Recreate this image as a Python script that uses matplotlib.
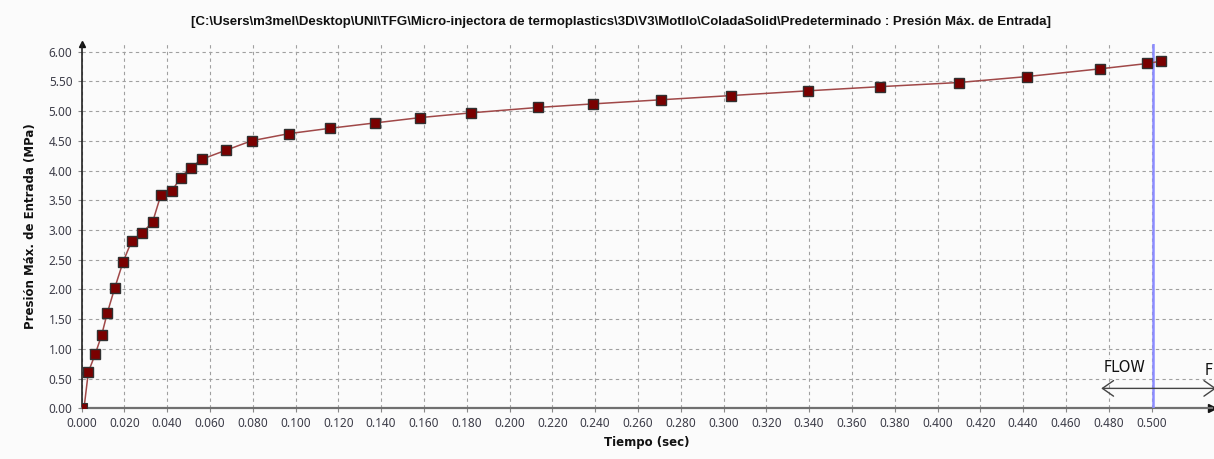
import matplotlib
matplotlib.use("Agg")
import matplotlib.pyplot as plt
import numpy as np

# data
tiempo = [0.0013, 0.0032, 0.0064, 0.0094, 0.0121, 0.0155, 0.0194, 0.0234, 0.0283, 0.0332,
          0.0371, 0.0421, 0.0463, 0.0511, 0.0563, 0.0674, 0.0795, 0.0969, 0.1161, 0.1371,
          0.1583, 0.1821, 0.2131, 0.2388, 0.2710, 0.3033, 0.3393, 0.3731, 0.4100, 0.4418,
          0.4759, 0.4981, 0.5045]
presion = [0.04, 0.61, 0.91, 1.23, 1.61, 2.02, 2.46, 2.81, 2.95, 3.13,
           3.59, 3.65, 3.88, 4.05, 4.19, 4.34, 4.50, 4.62, 4.71, 4.80,
           4.89, 4.97, 5.06, 5.12, 5.19, 5.26, 5.34, 5.41, 5.48, 5.58,
           5.71, 5.80, 5.84]
xticks = np.round(np.arange(0, 0.501, 0.02), 3)
yticks = np.round(np.arange(0, 6.01, 0.5), 2)
cursor_t = 0.5005
flow_start = 0.4765

title = r"[C:\Users\m3mel\Desktop\UNI\TFG\Micro-injectora de termoplastics\3D\V3\Motllo\ColadaSolid\Predeterminado : Presión Máx. de Entrada]"

W, H = 1214, 459
fig = plt.figure(figsize=(W/100, H/100), dpi=100)
bg = "#fbfbfb"
fig.patch.set_facecolor(bg)
x0, x1 = 81.5, 1212
y0, y1 = 408.3, 44
ax = fig.add_axes([x0/W, (H-y0)/H, (x1-x0)/W, (y0-y1)/H])
ax.set_facecolor(bg)
xmax = (x1 - x0) / 2140.0
ymax = (y0 - y1) / 59.45
ax.set_xlim(0, xmax)
ax.set_ylim(0, ymax)

ax.set_xticks(xticks)
ax.set_xticklabels([f"{v:.3f}" for v in xticks])
ax.set_yticks(yticks)
ax.set_yticklabels([f"{v:.2f}" for v in yticks])
tick_color = "#3c3c48"
ax.tick_params(axis="both", labelsize=8.5, colors="#888888", labelcolor=tick_color, length=3, width=0.8)
for lab in ax.get_xticklabels() + ax.get_yticklabels():
    lab.set_fontfamily(["Noto Sans", "DejaVu Sans"])

ax.grid(True, linestyle=(0, (3, 3)), color="#a0a0a0", linewidth=0.8)
for s in ["top", "right"]:
    ax.spines[s].set_visible(False)
ax.spines["left"].set_color("#222222")
ax.spines["left"].set_linewidth(1.2)
ax.spines["bottom"].set_color("#707070")
ax.spines["bottom"].set_linewidth(1.6)
# axis arrows
ax.plot([0], [ymax], marker="^", markersize=5, color="#111111", clip_on=False)
ax.plot([xmax], [0], marker=">", markersize=6, color="#111111", clip_on=False)

# cursor line
ax.axvline(cursor_t, color="#8c8cff", linewidth=1.8, zorder=3)

# data line & markers
ax.plot(tiempo, presion, color="#a04848", linewidth=1.1, zorder=4)
ax.plot(tiempo[1:], presion[1:], linestyle="none", marker="s", markersize=7.5,
        markerfacecolor="#7a0000", markeredgecolor="#303030", markeredgewidth=1.0, zorder=5)
ax.plot(tiempo[:1], presion[:1], linestyle="none", marker="s", markersize=4,
        markerfacecolor="#7a0000", markeredgecolor="#303030", markeredgewidth=0.8, zorder=5)

# FLOW annotation
ax.annotate("", xy=(flow_start, 0.335), xytext=(xmax + 0.002, 0.335),
            arrowprops=dict(arrowstyle="<->,head_length=0.5,head_width=0.35", color="#444444", lw=1.0,
                            mutation_scale=16, shrinkA=0, shrinkB=0), annotation_clip=False)
ax.text(flow_start + 0.001, 0.56, "FLOW", fontsize=10.5, color="#111111",
        ha="left", va="bottom", family=["DejaVu Sans"],
        bbox=dict(facecolor=bg, edgecolor="none", pad=1))
fig.text(1205/W, (H-378)/H, "F", fontsize=10.5, color="#111111", ha="left", va="bottom",
         family=["DejaVu Sans"])

ax.set_xlabel("Tiempo (sec)", fontsize=8.5, fontweight="bold", color="#111111",
              family=["DejaVu Sans"], labelpad=4)
ax.set_ylabel("Presión Máx. de Entrada (MPa)", fontsize=8.5, fontweight="bold", color="#111111",
              family=["DejaVu Sans"], labelpad=8)
fig.text(621/W, (H-22)/H, title, fontsize=9.5, fontweight="bold", ha="center", va="center",
         color="#111111", family=["Liberation Sans Narrow", "Liberation Sans", "DejaVu Sans"])

fig.savefig("out.png", dpi=100, facecolor=bg)
